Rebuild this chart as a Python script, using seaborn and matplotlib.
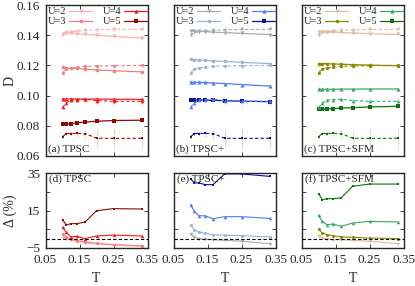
import numpy as np
import matplotlib
matplotlib.use("Agg")
import matplotlib.pyplot as plt
import seaborn as sns

#------ data ------
T = [1/10, 1/9, 1/8, 1/7, 1/6, 1/5, 1/4, 1/3]
U_list = [2, 3, 4, 5]
markers = {2: "v", 3: "o", 4: "^", 5: "s"}
msize = {2: 3.0, 3: 2.6, 4: 3.0, 5: 2.3}

# reference D (dashed, with error bars) - same in all three top panels
ref_u2 = [0.1400, 0.1418, 0.1421, 0.1428, 0.1432, 0.1436, 0.1438, 0.1438]
ref_u3 = [0.1150, 0.1178, 0.1182, 0.1188, 0.1194, 0.1196, 0.1198, 0.1200]
ref_u4 = [0.0922, 0.0949, 0.0971, 0.0973, 0.0976, 0.0967, 0.0962, 0.0962]
ref_u5 = [0.0727, 0.0749, 0.0749, 0.0750, 0.0749, 0.0718, 0.0716, 0.0718]
err_u2 = [0.0003, 0.0003, 0.0004, 0.0005, 0.0006, 0.0008, 0.0010, 0.0010]
err_u3 = [0.0004, 0.0004, 0.0005, 0.0006, 0.0008, 0.0010, 0.0012, 0.0013]
err_u4 = [0.0005, 0.0006, 0.0008, 0.0010, 0.0013, 0.0020, 0.0025, 0.0025]
err_u5 = [0.0005, 0.0008, 0.0010, 0.0015, 0.0030, 0.0055, 0.0060, 0.0065]
ref_D = {2: ref_u2, 3: ref_u3, 4: ref_u4, 5: ref_u5}
ref_err = {2: err_u2, 3: err_u3, 4: err_u4, 5: err_u5}

# D from each method (solid lines)
tpsc_D = {2: [0.1411, 0.1414, 0.1414, 0.1410, 0.1405, 0.1400, 0.1392, 0.1382],
          3: [0.1190, 0.1180, 0.1180, 0.1180, 0.1175, 0.1170, 0.1165, 0.1157],
          4: [0.0978, 0.0978, 0.0978, 0.0977, 0.0977, 0.0977, 0.0976, 0.0975],
          5: [0.0810, 0.0812, 0.0815, 0.0820, 0.0825, 0.0830, 0.0835, 0.0837]}
tpscp_D = {2: [0.1428, 0.1427, 0.1426, 0.1424, 0.1420, 0.1417, 0.1412, 0.1404],
           3: [0.1240, 0.1238, 0.1236, 0.1234, 0.1230, 0.1226, 0.1220, 0.1212],
           4: [0.1090, 0.1089, 0.1088, 0.1087, 0.1083, 0.1080, 0.1073, 0.1063],
           5: [0.0973, 0.0972, 0.0971, 0.0970, 0.0969, 0.0966, 0.0963, 0.0960]}
sfm_D = {2: [0.1422, 0.1422, 0.1421, 0.1420, 0.1418, 0.1415, 0.1410, 0.1405],
         3: [0.1212, 0.1212, 0.1211, 0.1210, 0.1208, 0.1205, 0.1202, 0.1198],
         4: [0.1042, 0.1042, 0.1042, 0.1042, 0.1043, 0.1043, 0.1044, 0.1044],
         5: [0.0908, 0.0910, 0.0912, 0.0914, 0.0917, 0.0920, 0.0925, 0.0929]}

# relative deviation Delta (%)
tpsc_dev = {2: [0.8, 0.0, -0.6, -1.4, -2.2, -2.8, -3.5, -4.1],
            3: [2.6, 1.0, -0.3, -1.0, -1.8, -2.5, -3.2, -3.8],
            4: [6.0, 3.4, 0.9, 1.2, 0.0, 1.4, 1.9, 1.4],
            5: [10.1, 7.3, 8.0, 8.0, 8.9, 14.9, 16.0, 15.8]}
tpscp_dev = {2: [2.5, 0.7, 0.0, -0.4, -0.6, -0.9, -1.4, -2.7],
             3: [7.4, 4.8, 3.5, 2.8, 2.1, 1.8, 1.6, 0.9],
             4: [18.1, 14.6, 12.2, 12.2, 10.6, 11.7, 11.7, 10.8],
             5: [32.0, 29.7, 29.7, 28.8, 28.8, 34.5, 34.5, 33.2]}
sfm_dev = {2: [1.6, 0.3, -0.2, -0.6, -0.6, -0.9, -1.4, -2.7],
           3: [5.1, 3.0, 2.1, 1.6, 0.9, 0.7, 0.3, 0.0],
           4: [12.4, 9.2, 7.4, 7.8, 6.6, 8.3, 9.2, 8.9],
           5: [24.0, 20.8, 21.3, 21.3, 21.7, 27.9, 29.1, 29.1]}

colors_tpsc = {2: "#f7b4b4", 3: "#ee8080", 4: "#f01c1c", 5: "#8c0a0a"}
colors_tpscp = {2: "#aaaaaa", 3: "#9db3d3", 4: "#4f7fe8", 5: "#10108c"}
colors_sfm = {2: "#dcbea6", 3: "#8a8a00", 4: "#3aa86a", 5: "#0f700f"}

methods = [("TPSC", tpsc_D, tpsc_dev, colors_tpsc, "a", "d"),
           ("TPSC+", tpscp_D, tpscp_dev, colors_tpscp, "b", "e"),
           ("TPSC+SFM", sfm_D, sfm_dev, colors_sfm, "c", "f")]

#------ style ------
sns.set_style("ticks")
plt.rcParams["font.family"] = ["Liberation Serif", "DejaVu Serif"]
plt.rcParams["xtick.direction"] = "in"
plt.rcParams["ytick.direction"] = "in"

W, H = 415, 286
fig = plt.figure(figsize=(W / 100, H / 100), dpi=100)
lefts = [45.5, 173.5, 301.5]
aw = 102

for i, (name, D, dev, cols, ltop, lbot) in enumerate(methods):
    ax = fig.add_axes([lefts[i] / W, 1 - 156 / H, aw / W, 151 / H])
    ax2 = fig.add_axes([lefts[i] / W, 1 - 248 / H, aw / W, 75 / H])

    handles = []
    for U in U_list:
        c = cols[U]
        m = markers[U]
        eb = ax.errorbar(T, ref_D[U], yerr=ref_err[U], color=c, ls=(0, (3, 2)),
                         lw=0.8, marker=m, ms=msize[U] * 0.9, mew=0,
                         capsize=1.5, elinewidth=0.6, capthick=0.5)
        eb[2][0].set_linestyle(":")
        eb[2][0].set_alpha(0.6)
        for cap in eb[1]:
            cap.set_alpha(0.6)
        sns.lineplot(x=T, y=D[U], ax=ax, color=c, marker=m, markersize=msize[U],
                     markeredgewidth=0, linewidth=0.9, legend=False)
        line = ax.lines[-1]
        line.set_label("U=%d" % U)
        handles.append(line)
        sns.lineplot(x=T, y=dev[U], ax=ax2, color=c, marker=m,
                     markersize=msize[U] * 0.85, markeredgewidth=0,
                     linewidth=0.8, legend=False)

    ax2.axhline(0, color="black", ls=(0, (3, 2)), lw=0.8)

    ax.set_xlim(0.05, 0.35)
    ax.set_ylim(0.06, 0.16)
    ax.set_xticks([0.05, 0.15, 0.25, 0.35])
    ax.set_yticks(np.arange(0.06, 0.161, 0.02))
    ax.set_xticklabels([])
    ax2.set_xlim(0.05, 0.35)
    ax2.set_ylim(-5, 35)
    ax2.set_xticks([0.05, 0.15, 0.25, 0.35])
    ax2.set_xticklabels(["0.05", "0.15", "0.25", "0.35"])
    ax2.set_yticks([-5, 5, 15, 25, 35])
    ax2.set_xlabel("T", fontsize=10, labelpad=5)

    for a in (ax, ax2):
        a.tick_params(top=True, right=True, labelsize=9.5, length=3,
                      width=0.6, pad=4)
        for s in a.spines.values():
            s.set_linewidth(1.0)

    if i == 0:
        ax.set_yticklabels(["0.06", "0.08", "0.10", "0.12", "0.14", "0.16"])
        ax2.set_yticklabels(["\u22125", "", "15", "", "35"])
        ax.set_ylabel("D", fontsize=10)
        ax2.set_ylabel("\u0394 (%)", fontsize=10)
        ax.yaxis.set_label_coords(-0.28, 0.5)
        ax2.yaxis.set_label_coords(-0.28, 0.5)
    else:
        ax.set_yticklabels([])
        ax2.set_yticklabels([])

    ax.legend(handles=handles, ncol=2, loc="upper left", frameon=False,
              fontsize=7.5, markerfirst=False, handlelength=2.2,
              handletextpad=0.3, columnspacing=1.0, labelspacing=0.05,
              borderpad=0.15, borderaxespad=0.05)
    ax.text(0.02, 0.01, "(%s) %s" % (ltop, name), transform=ax.transAxes,
            fontsize=8, ha="left", va="bottom")
    ax2.text(0.03, 0.98, "(%s) %s" % (lbot, name), transform=ax2.transAxes,
             fontsize=8, ha="left", va="top")

fig.savefig("out.png", dpi=100)
